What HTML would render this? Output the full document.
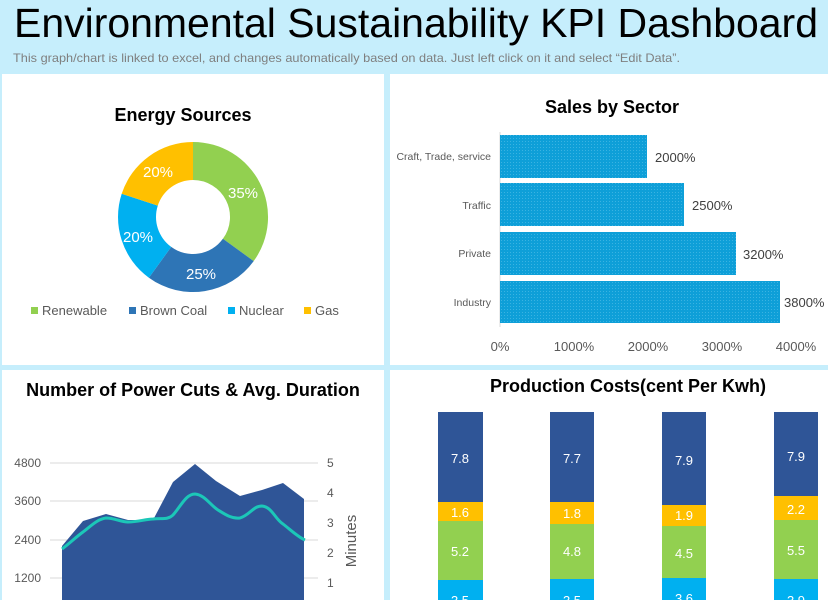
<!DOCTYPE html>
<html><head><meta charset="utf-8"><style>
html,body{margin:0;padding:0;width:828px;height:600px;overflow:hidden;background:#c6eefc;font-family:"Liberation Sans",sans-serif}
</style></head><body>
<svg width="828" height="600" xmlns="http://www.w3.org/2000/svg" font-family="Liberation Sans, sans-serif">
<defs>
<pattern id="dots" width="3" height="3" patternUnits="userSpaceOnUse">
<rect width="3" height="3" fill="#0e9fd8"/><rect width="1" height="1" fill="#3ab3e2"/>
</pattern>
</defs>
<rect width="828" height="600" fill="#c6eefc"/>
<text x="14" y="37" font-size="41" fill="#000" textLength="804" lengthAdjust="spacingAndGlyphs">Environmental Sustainability KPI Dashboard</text>
<text x="13" y="62" font-size="12" fill="#7f7f7f" textLength="667" lengthAdjust="spacingAndGlyphs">This graph/chart is linked to excel, and changes automatically based on data. Just left click on it and select “Edit Data”.</text>
<rect x="2" y="74" width="382" height="291" fill="#fff"/>
<rect x="390" y="74" width="438" height="291" fill="#fff"/>
<rect x="2" y="370" width="382" height="230" fill="#fff"/>
<rect x="390" y="370" width="438" height="230" fill="#fff"/>

<!-- Donut -->
<text x="183" y="121" font-size="18" font-weight="bold" text-anchor="middle">Energy Sources</text>
<path d="M193,142 A75,75 0 0 1 253.7,261.1 L222.9,238.8 A37,37 0 0 0 193,180 Z" fill="#92d050"/>
<path d="M253.7,261.1 A75,75 0 0 1 148.9,277.7 L171.2,246.9 A37,37 0 0 0 222.9,238.8 Z" fill="#2e75b6"/>
<path d="M148.9,277.7 A75,75 0 0 1 121.7,193.8 L157.8,205.6 A37,37 0 0 0 171.2,246.9 Z" fill="#00b0f0"/>
<path d="M121.7,193.8 A75,75 0 0 1 193,142 L193,180 A37,37 0 0 0 157.8,205.6 Z" fill="#ffc000"/>
<g fill="#fff" font-size="15" text-anchor="middle">
<text x="243" y="198">35%</text><text x="201" y="279">25%</text><text x="138" y="242">20%</text><text x="158" y="177">20%</text>
</g>
<g font-size="13" fill="#595959">
<rect x="31" y="307" width="7" height="7" fill="#92d050"/><text x="42" y="315">Renewable</text>
<rect x="129" y="307" width="7" height="7" fill="#2e75b6"/><text x="140" y="315">Brown Coal</text>
<rect x="228" y="307" width="7" height="7" fill="#00b0f0"/><text x="239" y="315">Nuclear</text>
<rect x="304" y="307" width="7" height="7" fill="#ffc000"/><text x="315" y="315">Gas</text>
</g>

<!-- Sales by sector -->
<text x="612" y="113" font-size="18" font-weight="bold" text-anchor="middle">Sales by Sector</text>
<line x1="500" y1="132" x2="500" y2="327" stroke="#d9d9d9"/>
<rect x="500" y="135" width="147" height="43" fill="url(#dots)"/>
<rect x="500" y="183" width="184" height="43" fill="url(#dots)"/>
<rect x="500" y="232" width="236" height="43" fill="url(#dots)"/>
<rect x="500" y="281" width="280" height="42" fill="url(#dots)"/>
<g font-size="10.5" fill="#595959" text-anchor="end">
<text x="491" y="160">Craft, Trade, service</text><text x="491" y="209">Traffic</text><text x="491" y="257">Private</text><text x="491" y="306">Industry</text>
</g>
<g font-size="13" fill="#404040">
<text x="655" y="162">2000%</text><text x="692" y="210">2500%</text><text x="743" y="259">3200%</text><text x="784" y="307">3800%</text>
</g>
<g font-size="13" fill="#595959" text-anchor="middle">
<text x="500" y="351">0%</text><text x="574" y="351">1000%</text><text x="648" y="351">2000%</text><text x="722" y="351">3000%</text><text x="796" y="351">4000%</text>
</g>

<!-- Power cuts -->
<text x="193" y="396" font-size="18" font-weight="bold" text-anchor="middle">Number of Power Cuts &amp; Avg. Duration</text>
<g stroke="#d9d9d9"><line x1="50" y1="463" x2="318" y2="463"/><line x1="50" y1="501" x2="318" y2="501"/><line x1="50" y1="540" x2="318" y2="540"/><line x1="50" y1="578" x2="318" y2="578"/></g>
<path d="M62,546 L83,521 L106,514 L128,520 L153,520 L173,482 L195,464 L216,481 L240,496 L262,490 L283,483 L304,499 L304,600 L62,600 Z" fill="#2f5597"/>
<path d="M62,549 C70,543 76,537 83,532 C92,525 98,519 106,518 C115,518 120,522 128,522 C138,522 146,519 153,519 C162,518 168,520 173,515 C181,506 186,494 195,494 C205,495 210,505 218,510 C226,515 232,519 240,518 C250,515 253,506 262,506 C272,507 275,519 283,524 C292,531 298,537 305,540" fill="none" stroke="#1cc7b8" stroke-width="3"/>
<g font-size="12" fill="#595959" text-anchor="end">
<text x="41" y="467">4800</text><text x="41" y="505">3600</text><text x="41" y="544">2400</text><text x="41" y="582">1200</text>
</g>
<g font-size="12" fill="#595959">
<text x="327" y="467">5</text><text x="327" y="497">4</text><text x="327" y="527">3</text><text x="327" y="557">2</text><text x="327" y="587">1</text>
</g>
<text transform="translate(356,541) rotate(-90)" font-size="15" fill="#595959" text-anchor="middle">Minutes</text>

<!-- Production costs -->
<text x="628" y="392" font-size="18" font-weight="bold" text-anchor="middle">Production Costs(cent Per Kwh)</text>
<g>
<rect x="438" y="412" width="45" height="90" fill="#2f5597"/><rect x="438" y="502" width="45" height="19" fill="#ffc000"/><rect x="438" y="521" width="45" height="59" fill="#92d050"/><rect x="438" y="580" width="45" height="20" fill="#00b0f0"/>
<rect x="550" y="412" width="44" height="90" fill="#2f5597"/><rect x="550" y="502" width="44" height="22" fill="#ffc000"/><rect x="550" y="524" width="44" height="55" fill="#92d050"/><rect x="550" y="579" width="44" height="21" fill="#00b0f0"/>
<rect x="662" y="412" width="44" height="93" fill="#2f5597"/><rect x="662" y="505" width="44" height="21" fill="#ffc000"/><rect x="662" y="526" width="44" height="52" fill="#92d050"/><rect x="662" y="578" width="44" height="22" fill="#00b0f0"/>
<rect x="774" y="412" width="44" height="84" fill="#2f5597"/><rect x="774" y="496" width="44" height="24" fill="#ffc000"/><rect x="774" y="520" width="44" height="59" fill="#92d050"/><rect x="774" y="579" width="44" height="21" fill="#00b0f0"/>
</g>
<g font-size="13" fill="#fff" text-anchor="middle">
<text x="460" y="463">7.8</text><text x="460" y="517">1.6</text><text x="460" y="556">5.2</text><text x="460" y="605">3.5</text>
<text x="572" y="463">7.7</text><text x="572" y="518">1.8</text><text x="572" y="556">4.8</text><text x="572" y="605">3.5</text>
<text x="684" y="465">7.9</text><text x="684" y="520">1.9</text><text x="684" y="558">4.5</text><text x="684" y="603">3.6</text>
<text x="796" y="461">7.9</text><text x="796" y="514">2.2</text><text x="796" y="555">5.5</text><text x="796" y="605">3.9</text>
</g>
</svg>
</body></html>
